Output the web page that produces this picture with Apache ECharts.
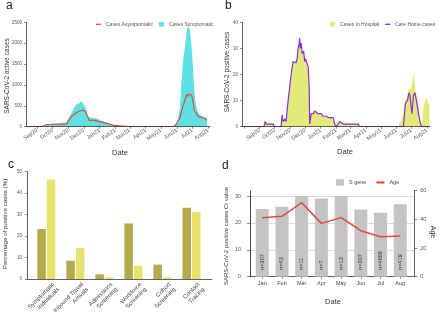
<!DOCTYPE html>
<html><head><meta charset="utf-8">
<script src="https://cdn.jsdelivr.net/npm/echarts@6/dist/echarts.min.js"></script>
<style>html,body{margin:0;padding:0;background:#fff}#c{width:440px;height:320px}</style>
</head><body><div id="c"></div>
<script>
// ---------- shared month ticks (panels a, b) ----------
const monthTickDates = ['2020-09-01','2020-10-01','2020-11-01','2020-12-01','2021-01-01','2021-02-01','2021-03-01','2021-04-01','2021-05-01','2021-06-01','2021-07-01','2021-08-01'];
const monthTickLabels = ['Sep20','Oct20','Nov20','Dec20','Jan21','Feb21','Mar21','Apr21','May21','Jun21','Jul21','Aug21'];

// ---------- panel a ----------
const aDates = ['2020-08-10','2020-08-22','2020-09-11','2020-09-19','2020-09-30','2020-10-08','2020-10-20','2020-10-28','2020-10-30','2020-11-07','2020-11-13','2020-11-17','2020-11-23','2020-11-26','2020-11-29','2020-12-04','2020-12-08','2020-12-12','2020-12-14','2020-12-22','2020-12-26','2021-01-01','2021-01-15','2021-01-26','2021-02-09','2021-02-23','2021-03-10','2021-05-24','2021-05-28','2021-05-31','2021-06-03','2021-06-07','2021-06-10','2021-06-12','2021-06-13','2021-06-17','2021-06-21','2021-06-23','2021-06-25','2021-06-26','2021-06-28','2021-06-30','2021-07-02','2021-07-03','2021-07-05','2021-07-08','2021-07-10','2021-07-12','2021-07-13','2021-07-16','2021-07-20','2021-07-23','2021-07-26','2021-07-30','2021-07-31'];
const aSymptomatic = [0,0,10,30,40,60,95,100,130,330,480,530,570,620,660,480,280,220,210,210,200,160,100,50,25,10,0,0,30,90,150,440,1075,1350,1550,1915,2350,2370,2390,2350,2190,1900,1550,1300,920,560,450,365,330,280,260,245,220,200,190];
const aAsymptomatic = [0,0,10,50,55,60,60,60,100,250,300,340,370,390,400,370,250,150,150,150,140,120,80,40,20,8,0,0,20,70,130,200,350,440,480,640,780,720,780,800,780,760,650,590,400,340,320,260,245,225,220,210,200,150,140];

// ---------- panel b ----------
const bDates = ['2020-07-28','2020-09-10','2020-09-12','2020-09-15','2020-09-28','2020-10-01','2020-10-14','2020-10-16','2020-10-18','2020-10-20','2020-10-22','2020-10-24','2020-10-26','2020-10-28','2020-10-31','2020-11-03','2020-11-07','2020-11-10','2020-11-13','2020-11-15','2020-11-17','2020-11-19','2020-11-20','2020-11-21','2020-11-23','2020-11-25','2020-11-28','2020-11-30','2020-12-02','2020-12-05','2020-12-07','2020-12-09','2020-12-10','2020-12-13','2020-12-17','2020-12-20','2020-12-23','2020-12-27','2020-12-30','2021-01-02','2021-01-06','2021-01-09','2021-01-12','2021-01-16','2021-01-19','2021-01-22','2021-01-26','2021-01-29','2021-02-01','2021-02-05','2021-02-08','2021-02-11','2021-02-15','2021-03-17','2021-03-19','2021-06-05','2021-06-06','2021-06-11','2021-06-15','2021-06-17','2021-06-18','2021-06-19','2021-06-23','2021-06-26','2021-06-28','2021-06-30','2021-07-02','2021-07-05','2021-07-08','2021-07-11','2021-07-15','2021-07-18','2021-07-21','2021-07-22','2021-07-25','2021-07-28','2021-07-31','2021-08-04','2021-08-06'];
const bCareHome = [0,0,2,1,1,0,0,4.5,2,2,3,2,2,10,15,20,25,25,24.5,26,30,32,34,30,32,28,29,25,26,24,23,15,1,5,5,6,6,5,4.5,5,4,4.5,4,3.5,4,3.5,3.5,1,0,1,2,2,1,1,0,0,0,0,0,0,0,9,10,13,12,8,5,12,13,10,5,2,0,0,0,0,0,0,0];
const bHospital = [0,0,2,1,1,0,0,4.5,2,2,3,2,2,10,15,20,25,25,24.5,26,30,32,34,30,32,28,29,25,26,24,23,15,1,5,5,6,6,5,4.5,5,4,4.5,4,3.5,4,3.5,3.5,1,0,1,2,2,1,1,0,0,1,2.5,5,8,9,10,12,15,14,15,16,21,15,12,8,3,1,0,8,10,11,9,8];

// ---------- panel c ----------
const cCategories = ['Symptomatic\nIndividuals','Inbound Travel\nArrivals','Admissions\nScreening','Workforce\nScreening','Cohort\nScreening','Contact\nTracing'];
const cGroup1 = [23.3, 8.5, 2.2, 25.9, 6.7, 33.2];
const cGroup2 = [46.4, 14.4, 0.8, 6.2, 0.8, 31.2];

// ---------- panel d ----------
const dMonths = ['Jan','Feb','Mar','Apr','May','Jun','Jul','Aug'];
const dSGene = [25.2, 26.0, 31.0, 29.1, 31.6, 25.0, 23.8, 26.9];
const dAge = [41.2, 42.1, 51.6, 37.2, 41.2, 32.1, 27.9, 28.4];
const dCounts = ['n=307','n=43','n=11','n=7','n=13','n=307','n=4668','n=419'];

// ---------- helpers ----------
function ts(s){ const p = s.split('-').map(Number); return new Date(p[0], p[1]-1, p[2]).getTime(); }
const tickTs = monthTickDates.map(ts);
function monthFmt(v){ const i = tickTs.findIndex(t => Math.abs(t - v) < 864e5); return i >= 0 ? monthTickLabels[i] : ''; }
function zip(d, v){ return d.map((x, i) => [ts(x), v[i]]); }

const FONT = 'Liberation Sans, Arial, Helvetica, sans-serif';
const AX = '#3a3a3a', LBL = '#555';
const LINE_ICON = 'path://M0,0H12V3.2H0Z';

function timeAxis(grid, min, max){
  return {type:'time', gridIndex:grid, min:ts(min), max:ts(max),
    minInterval:28*864e5, maxInterval:31*864e5, splitNumber:12,
    axisLine:{lineStyle:{color:AX, width:0.8}},
    axisTick:{show:true, length:2, lineStyle:{color:AX, width:0.6}},
    axisLabel:{rotate:35, fontSize:5.5, color:LBL, margin:3, fontFamily:FONT, formatter:monthFmt, hideOverlap:false, interval:0},
    splitLine:{show:false}, z:5};
}
function valAxis(grid, max, interval, fs, margin){
  return {type:'value', gridIndex:grid, min:0, max:max, interval:interval,
    axisLine:{show:true, lineStyle:{color:AX, width:0.8}},
    axisTick:{show:true, length:2, lineStyle:{color:AX, width:0.6}},
    axisLabel:{fontSize:fs, color:LBL, margin:margin, fontFamily:FONT, formatter:v => String(v)},
    splitLine:{show:false}};
}
function hiddenVal(grid, max){ return {type:'value', gridIndex:grid, min:0, max:max, show:false}; }
function hiddenCat(grid, data){ return {type:'category', gridIndex:grid, data:data, show:false}; }
function g(left, top, right, bottom){ return {left:left, top:top, width:right-left, height:bottom-top, outerBoundsMode:'none', containLabel:false}; }

const chart = echarts.init(document.getElementById('c'), null, {renderer:'canvas'});
const option = {
  backgroundColor:'#fff',
  animation:false,
  textStyle:{fontFamily:FONT},
  grid:[
    g(26, 22.3, 210, 126.7),      // 0 a
    g(242, 22.3, 430, 126.7),     // 1 b
    g(27, 171.7, 212, 279),       // 2 c axes
    g(31.8, 171.7, 206, 279),     // 3 c bars
    g(41.5, 171.7, 215.7, 279),   // 4 c labels
    g(250, 190.7, 414.3, 276.7),  // 5 d axes (Age axis)
    g(250, 196, 414.3, 276.7),    // 6 d left axis + split lines
    g(252.4, 196, 410.1, 276.7),  // 7 d bars
    g(252.4, 190.7, 410.1, 276.7) // 8 d line
  ],
  xAxis:[
    timeAxis(0, '2020-08-10', '2021-08-05'),
    timeAxis(1, '2020-07-28', '2021-08-07'),
    {type:'category', gridIndex:2, data:[''], axisLine:{lineStyle:{color:AX, width:0.8}}, axisTick:{show:false}, axisLabel:{show:false}},
    {type:'category', gridIndex:3, data:cCategories, axisLine:{show:false}, axisTick:{show:false}, axisLabel:{show:false}},
    {type:'category', gridIndex:4, data:cCategories, axisLine:{show:false}, axisTick:{show:false},
      axisLabel:{rotate:45, fontSize:6, lineHeight:7, color:'#444', margin:7, interval:0, fontFamily:FONT}},
    {type:'category', gridIndex:5, data:[''], axisLine:{lineStyle:{color:AX, width:0.8}}, axisTick:{show:false}, axisLabel:{show:false}},
    hiddenCat(6, dMonths),
    {type:'category', gridIndex:7, data:dMonths, axisLine:{show:false},
      axisTick:{show:true, alignWithLabel:true, length:2, lineStyle:{color:AX, width:0.6}},
      axisLabel:{fontSize:5.5, color:'#444', margin:4, interval:0, fontFamily:FONT}},
    hiddenCat(8, dMonths)
  ],
  yAxis:[
    valAxis(0, 2500, 500, 4.5, 4),
    valAxis(1, 40, 10, 4.5, 4),
    valAxis(2, 50, 10, 4.5, 5),
    hiddenVal(3, 50),
    hiddenVal(4, 50),
    {type:'value', gridIndex:5, min:0, max:60, interval:20, position:'right',
      axisLine:{show:true, lineStyle:{color:AX, width:0.8}},
      axisTick:{show:true, length:3, lineStyle:{color:AX, width:0.6}},
      axisLabel:{fontSize:5.5, color:LBL, margin:6, fontFamily:FONT},
      splitLine:{show:false}},
    {type:'value', gridIndex:6, min:0, max:30, interval:10, position:'left',
      axisLine:{show:true, lineStyle:{color:AX, width:0.8}},
      axisTick:{show:true, length:3, lineStyle:{color:AX, width:0.6}},
      axisLabel:{fontSize:5.5, color:LBL, margin:9, fontFamily:FONT},
      splitLine:{show:true, lineStyle:{color:'#dcdcdc', width:1}}},
    hiddenVal(7, 30),
    hiddenVal(8, 60),
    {type:'value', gridIndex:5, min:0, max:60, position:'left',
      axisLine:{show:true, lineStyle:{color:AX, width:0.8}}, axisTick:{show:false}, axisLabel:{show:false}, splitLine:{show:false}}
  ],
  legend:[
    {data:[{name:'Cases Asymptomatic', icon:LINE_ICON}, {name:'Cases Symptomatic', icon:'rect'}], left:96, top:21.8, orient:'horizontal',
      itemWidth:5, itemHeight:4.5, itemGap:6, padding:0, textStyle:{fontSize:5, color:'#555', fontFamily:FONT}},
    {data:[{name:'Cases In Hospital', icon:'rect'}, {name:'Care Home cases', icon:LINE_ICON}], left:330, top:21.8,
      itemWidth:5, itemHeight:4.5, itemGap:6, padding:0, textStyle:{fontSize:5, color:'#555', fontFamily:FONT}},
    {data:[{name:'S gene', icon:'rect'}, {name:'Age', icon:LINE_ICON}], left:336, top:179.2,
      itemWidth:8, itemHeight:6.5, itemGap:10, padding:0, textStyle:{fontSize:5.5, color:'#444', fontFamily:FONT}}
  ],
  series:[
    {name:'Cases Symptomatic', type:'line', xAxisIndex:0, yAxisIndex:0, data:zip(aDates, aSymptomatic),
      symbol:'none', color:'#5fe1e4', lineStyle:{width:0}, areaStyle:{color:'#5fe1e4', opacity:1}, z:2},
    {name:'Cases Asymptomatic', type:'line', xAxisIndex:0, yAxisIndex:0, data:zip(aDates, aAsymptomatic),
      symbol:'none', color:'#d9503f', lineStyle:{width:1.2, color:'#d9503f'}, z:3},
    {name:'Cases In Hospital', type:'line', xAxisIndex:1, yAxisIndex:1, data:zip(bDates, bHospital),
      symbol:'none', color:'#e3ea78', lineStyle:{width:0}, areaStyle:{color:'#e3ea78', opacity:1}, z:2},
    {name:'Care Home cases', type:'line', xAxisIndex:1, yAxisIndex:1, data:zip(bDates, bCareHome),
      symbol:'none', color:'#8b2fe0', lineStyle:{width:1.2, color:'#8b2fe0'}, z:3},
    {name:'Group 1', type:'bar', xAxisIndex:3, yAxisIndex:3, data:cGroup1, barWidth:8.5, barGap:'12%', itemStyle:{color:'#b4aa4b'}},
    {name:'Group 2', type:'bar', xAxisIndex:3, yAxisIndex:3, data:cGroup2, barWidth:8.5, barGap:'12%', itemStyle:{color:'#e7e26d'}},
    {name:'S gene', type:'bar', xAxisIndex:7, yAxisIndex:7, data:dSGene, barWidth:13, itemStyle:{color:'#c4c4c4'},
      label:{show:true, position:'insideBottom', rotate:90, align:'left', verticalAlign:'middle', distance:7,
        fontSize:5.5, color:'#333', fontFamily:FONT, formatter:p => dCounts[p.dataIndex]}},
    {name:'Age', type:'line', xAxisIndex:8, yAxisIndex:8, data:dAge, symbol:'none', color:'#e5473b',
      lineStyle:{width:1.5, color:'#e5473b'}, z:4}
  ],
  graphic:[
    {type:'text', left:6, top:0, style:{text:'a', fontSize:12, fill:'#222', fontFamily:FONT}},
    {type:'text', left:225, top:0, style:{text:'b', fontSize:12, fill:'#222', fontFamily:FONT}},
    {type:'text', left:8, top:159, style:{text:'c', fontSize:12, fill:'#222', fontFamily:FONT}},
    {type:'text', left:222, top:160, style:{text:'d', fontSize:12, fill:'#222', fontFamily:FONT}},
    {type:'text', x:7, y:76, rotation:Math.PI/2, style:{text:'SARS-CoV-2 active cases', fontSize:6.5, fill:'#333', align:'center', verticalAlign:'middle', fontFamily:FONT}},
    {type:'text', x:227, y:72, rotation:Math.PI/2, style:{text:'SARS-CoV-2 positive cases', fontSize:6.5, fill:'#333', align:'center', verticalAlign:'middle', fontFamily:FONT}},
    {type:'text', x:5, y:224, rotation:Math.PI/2, style:{text:'Percentage of positive cases (%)', fontSize:6.2, fill:'#333', align:'center', verticalAlign:'middle', fontFamily:FONT}},
    {type:'text', x:226, y:236, rotation:Math.PI/2, style:{text:'SARS-CoV-2 positive cases Ct value', fontSize:6, fill:'#333', align:'center', verticalAlign:'middle', fontFamily:FONT}},
    {type:'text', x:433, y:232, rotation:-Math.PI/2, style:{text:'Age', fontSize:7, fill:'#333', align:'center', verticalAlign:'middle', fontFamily:FONT}},
    {type:'text', x:120, y:153, style:{text:'Date', fontSize:7.5, fill:'#333', align:'center', verticalAlign:'middle', fontFamily:FONT}},
    {type:'text', x:345, y:152, style:{text:'Date', fontSize:7.5, fill:'#333', align:'center', verticalAlign:'middle', fontFamily:FONT}},
    {type:'text', x:333, y:302, style:{text:'Date', fontSize:7.5, fill:'#333', align:'center', verticalAlign:'middle', fontFamily:FONT}}
  ]
};
chart.setOption(option);
</script>
</body></html>
